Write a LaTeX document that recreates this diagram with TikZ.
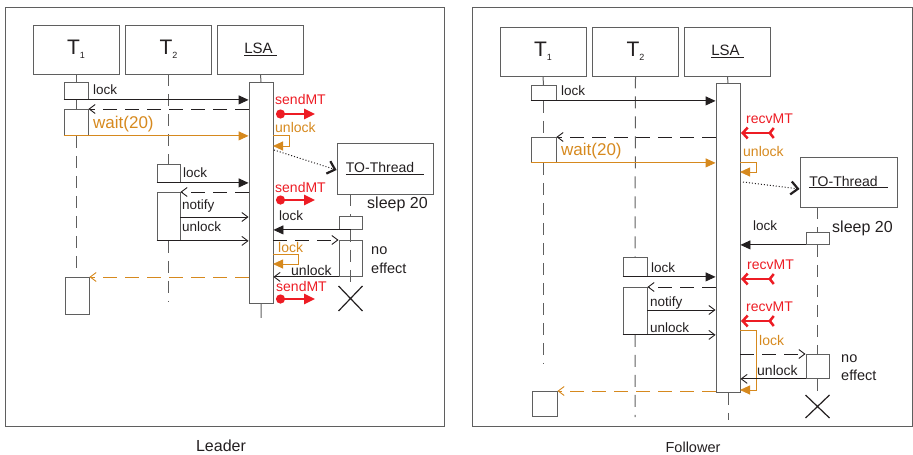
\documentclass[tikz,border=0pt]{standalone}
\usepackage{fontspec}
\setmainfont{Liberation Sans}
\usetikzlibrary{arrows.meta,calc}
\definecolor{orng}{RGB}{214,137,30}
\definecolor{mtred}{RGB}{237,28,36}
\definecolor{txt}{RGB}{35,31,32}
\definecolor{edge}{RGB}{95,95,95}
\newcommand{\Tsub}[1]{{\fontsize{21}{21}\selectfont T}\raisebox{-4pt}{\fontsize{9}{9}\selectfont #1}}
\tikzset{
  frame/.style={draw=edge, line width=1pt},
  hdr/.style={draw=edge, fill=white, line width=0.9pt, minimum width=86pt, minimum height=49pt, inner sep=0pt, text=txt, font=\fontsize{15}{16}\selectfont},
  act/.style={draw=edge, fill=white, line width=0.9pt, minimum width=24pt, inner sep=0pt},
  objbox/.style={draw=edge, fill=white, line width=0.9pt, inner sep=0pt, text=txt, font=\fontsize{14}{15}\selectfont},
  lifeline/.style={draw=edge, line width=1pt},
  life/.style={lifeline, dash pattern=on 12pt off 8pt},
  call/.style={draw=txt, line width=0.9pt, -{Triangle[length=10pt,width=9pt]}},
  ocall/.style={call, draw=orng},
  reply/.style={draw=txt, line width=0.9pt, -{Straight Barb[length=6pt,width=9pt]}},
  back/.style={reply, dash pattern=on 14pt off 8pt},
  oback/.style={back, draw=orng},
  spawn/.style={draw=txt, line width=1pt, dotted, -{Straight Barb[length=7pt,width=13pt,line width=2.2pt]}},
  sendmt/.style={draw=mtred, line width=2.5pt, {Circle[length=9pt]}-{Triangle[length=11pt,width=10pt]}},
  recvmt/.style={draw=mtred, line width=2.5pt, {Straight Barb[reversed,length=4pt,width=10pt]}-{Straight Barb[length=5pt,width=11pt]}},
  xmark/.style={draw=txt, line width=1.2pt},
  lbl/.style={inner sep=0pt, anchor=west, text=txt, font=\fontsize{13.5}{15}\selectfont},
  rlbl/.style={lbl, text=mtred, font=\fontsize{14}{15}\selectfont},
  olbl/.style={lbl, text=orng, font=\fontsize{14}{15}\selectfont},
  panelname/.style={inner sep=0pt, text=txt, font=\fontsize{16}{17}\selectfont}
}
\begin{document}
\begin{tikzpicture}[x=1pt,y=-1pt]
\useasboundingbox (0,0) rectangle (913,455);
\draw[frame] (5,7) rectangle (444,426);
\draw[frame] (472,7) rectangle (912,426);

% heads of both panels
\foreach \p/\dx/\dy in {L/0/0,F/467/2}{
  \node[hdr] (\p T1) at (76+\dx,49.5+\dy) {\Tsub{1}};
  \node[hdr] (\p T2) at (168.5+\dx,49.5+\dy) {\Tsub{2}};
  \node[hdr] (\p LSA) at (260.5+\dx,49.5+\dy) {\underline{LSA\hspace{4pt}}};
}

% ---------------- Leader ----------------
\node[act, minimum height=221pt, anchor=north] (Lbar) at (261,82) {};
\node[act, minimum height=17pt, anchor=north] (Lt1a) at (76,82) {};
\node[act, minimum height=26pt, anchor=north] (Lt1b) at (76,109) {};
\node[act, minimum height=37pt, anchor=north] (Lt1c) at (77,277) {};
\node[act, minimum width=23pt, minimum height=18pt, anchor=north] (Lt2a) at (168.5,164) {};
\node[act, minimum width=23pt, minimum height=48pt, anchor=north] (Lt2b) at (168.5,192) {};
\node[objbox, minimum width=96pt, minimum height=51pt] (LTO) at (385,168.5) {\underline{TO-Thread\hspace{10pt}}};
\node[act, minimum width=23pt, minimum height=13pt, anchor=north] (Lto1) at (350.5,216) {};
\node[act, fill=none, minimum width=23pt, minimum height=36pt, anchor=north] (Lto2) at (350.5,240) {};
\coordinate (LX) at (350.5,298.5);

% lifelines
\draw[lifeline] (LT1.south) -- (Lt1a.north) (Lt1a.south) -- (Lt1b.north);
\draw[life] (Lt1b.south) -- (76,270);
\draw[life] (LT2.south) -- (Lt2a.north) (Lt2b.south) -- (168.5,302);
\draw[lifeline] (LLSA.south) -- (Lbar.north) (Lbar.south) -- ++(0,14);
\draw[life] (LTO.south -| Lto1) -- (Lto1.north) (Lto1.south) -- ($(LX)+(0,-12)$);
\draw[xmark] (LX) +(-12,-12.5) -- +(12,12.5) (LX) +(-12,12.5) -- +(12,-12.5);

% messages
\draw[call] (Lt1a.south west) -- (Lt1a.south west -| Lbar.west);
\node[lbl] (Llk1) at (93,90) {lock};
\draw[back] (Lbar.west |- Lt1b.north) -- (Lt1b.north east);
\draw[ocall] (Lt1b.south west) -- (Lt1b.south west -| Lbar.west);
\node[olbl, font=\fontsize{17}{18}\selectfont] (Lwt) at (93,124) {wait(20)};
\node[rlbl] (Lsd1) at (275,99) {sendMT};
\draw[sendmt] (276,114) -- (315,114);
\node[olbl] (Lul1) at (275,127) {unlock};
\draw[ocall] (273,135) -- (289,135) -- (289,146) -- (273,146);
\draw[spawn] (274,150) -- ($(LTO.west)+(0,1.5)$);
\draw[call] (Lt2a.south west) -- (Lt2a.south west -| Lbar.west);
\node[lbl] (Llk2) at (183,173) {lock};
\node[rlbl] (Lsd2) at (275,187) {sendMT};
\draw[sendmt] (276,200) -- (315,200);
\draw[back] (Lbar.west |- Lt2b.north) -- (Lt2b.north east);
\draw[reply] (Lt2b.east |- 0,217) -- (Lbar.west |- 0,217);
\node[lbl] (Lnt) at (182,206) {notify};
\draw[reply] (Lt2b.south west) -- (Lt2b.south west -| Lbar.west);
\node[lbl] (Lul2) at (182,227) {unlock};
\node[lbl, font=\fontsize{16}{17}\selectfont] (Lsl) at (367,204) {sleep 20};
\draw[call] (Lto1.south) -- (Lto1.south -| Lbar.east);
\node[lbl] (Llk3) at (279,216) {lock};
\draw[back] (Lbar.east |- Lto2.north) -- (Lto2.north west);
\draw[ocall] (273,254) -- (298,254) -- (298,264) -- (273,264);
\node[olbl] (Llk4) at (278,247) {lock};
\draw[reply] (Lto2.south west) -- (Lto2.south west -| Lbar.east);
\node[lbl, anchor=base west, font=\fontsize{14}{15}\selectfont] (Lul3) at (291,275) {unlock};
\node[lbl, font=\fontsize{14.5}{15}\selectfont] (Lno) at (371,251) {no};
\node[lbl, font=\fontsize{14.5}{15}\selectfont] (Lef) at (371,268) {effect};
\draw[oback] (Lbar.west |- Lt1c.north) -- (Lt1c.north east);
\node[rlbl] (Lsd3) at (276,286) {sendMT};
\draw[sendmt] (276,299) -- (315,299);
\node[panelname] (Lcap) at (221,446) {Leader};

% ---------------- Follower ----------------
\node[act, minimum height=309pt, anchor=north] (Fbar) at (728,83) {};
\node[act, minimum width=25pt, minimum height=15pt, anchor=north] (Ft1a) at (543.5,85) {};
\node[act, minimum width=25pt, minimum height=25pt, anchor=north] (Ft1b) at (543.5,137) {};
\node[act, minimum width=25pt, minimum height=25pt, anchor=north] (Ft1c) at (544.5,391) {};
\node[act, minimum height=19pt, anchor=north] (Ft2a) at (635,257) {};
\node[act, minimum height=47pt, anchor=north] (Ft2b) at (635,287) {};
\node[objbox, minimum width=97pt, minimum height=50pt] (FTO) at (848.5,182) {\underline{TO-Thread\hspace{10pt}}};
\node[act, minimum width=23pt, minimum height=12pt, anchor=north] (Fto1) at (817.5,232) {};
\node[act, minimum width=23pt, minimum height=24pt, anchor=north] (Fto2) at (817.5,354) {};
\coordinate (FX) at (817.5,406.5);

% lifelines
\draw[lifeline] (FT1.south) -- (Ft1a.north);
\draw[life] (Ft1a.south) -- (Ft1b.north) (Ft1b.south) -- (543.5,363);
\draw[life] (FT2.south) -- (Ft2a.north) (Ft2b.south) -- (635,417);
\draw[lifeline] (FLSA.south) -- (Fbar.north);
\draw[life] (Fbar.south) -- (728,420);
\draw[life] (FTO.south -| Fto1) -- (Fto1.north) (Fto1.south) -- (Fto2.north) (Fto2.south) -- ($(FX)+(0,-12)$);
\draw[xmark] (FX) +(-12,-11.5) -- +(12,11.5) (FX) +(-12,11.5) -- +(12,-11.5);

% messages
\draw[call] (Ft1a.south west) -- (Ft1a.south west -| Fbar.west);
\node[lbl] (Flk1) at (561,91) {lock};
\node[rlbl] (Frv1) at (746,119) {recvMT};
\draw[recvmt] (775,133) -- (741,133);
\draw[back] (Fbar.west |- Ft1b.north) -- (Ft1b.north east);
\draw[ocall] (Ft1b.south west) -- (Ft1b.south west -| Fbar.west);
\node[olbl, font=\fontsize{17}{18}\selectfont] (Fwt) at (561,151) {wait(20)};
\node[olbl] (Ful1) at (743,151) {unlock};
\draw[ocall] (740,162) -- (756,162) -- (756,172) -- (740,172);
\draw[spawn] (743,182) -- ($(FTO.west)+(0,7)$);
\node[lbl, font=\fontsize{16}{17}\selectfont] (Fsl) at (832,228) {sleep 20};
\draw[call] (Fto1.south west) -- (Fto1.south west -| Fbar.east);
\node[lbl] (Flk3) at (753,226) {lock};
\draw[call] (Ft2a.south west) -- (Ft2a.south west -| Fbar.west);
\node[lbl] (Flk2) at (651,268) {lock};
\node[rlbl] (Frv2) at (747,265) {recvMT};
\draw[recvmt] (775,279) -- (741,279);
\draw[back] (Fbar.west |- Ft2b.north) -- (Ft2b.north east);
\draw[reply] (Ft2b.east |- 0,310) -- (Fbar.west |- 0,310);
\node[lbl] (Fnt) at (650,303) {notify};
\draw[reply] (Ft2b.south west) -- (Ft2b.south west -| Fbar.west);
\node[lbl] (Ful2) at (650,328) {unlock};
\node[rlbl] (Frv3) at (746,307) {recvMT};
\draw[recvmt] (775,321) -- (741,321);
\draw[ocall] (740,330) -- (756,330) -- (756,390) -- (740,390);
\node[olbl] (Flk4) at (759,340) {lock};
\draw[back] (Fbar.east |- Fto2.north) -- (Fto2.north west);
\draw[reply] (Fto2.south west) -- (Fto2.south west -| Fbar.east);
\node[lbl, anchor=base west, font=\fontsize{14}{15}\selectfont] (Ful3) at (757,375) {unlock};
\node[lbl, font=\fontsize{14.5}{15}\selectfont] (Fno) at (841,359) {no};
\node[lbl, font=\fontsize{14.5}{15}\selectfont] (Fef) at (841,375) {effect};
\draw[oback] (Fbar.west |- Ft1c.north) -- (Ft1c.north east);
\node[panelname, font=\fontsize{14.5}{16}\selectfont] (Fcap) at (693,447) {Follower};
\end{tikzpicture}
\end{document}
